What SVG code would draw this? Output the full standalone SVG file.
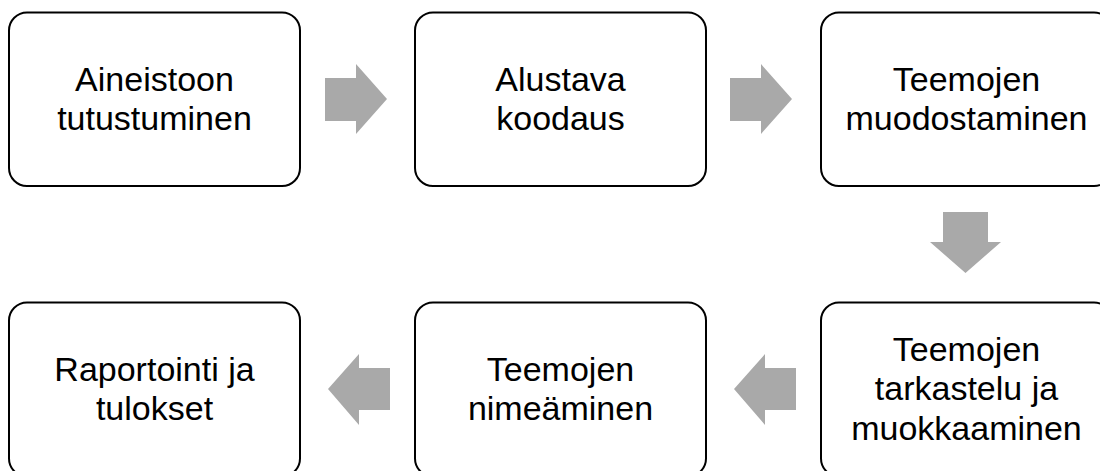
<svg xmlns="http://www.w3.org/2000/svg" width="1100" height="471" viewBox="0 0 1100 471">
  <style>
    .box { fill: #ffffff; stroke: #000000; stroke-width: 2; }
    .lbl { font-family: "Liberation Sans", Arial, sans-serif; font-size: 34px; fill: #000000; text-anchor: middle; }
    .arrow { fill: #a9a9a9; stroke: none; }
  </style>
  <rect width="1100" height="471" fill="#ffffff"/>

  <!-- block arrows between the steps -->
  <g id="connectors">
    <polygon class="arrow" points="325,78 356,78 356,64 387,99 356,134 356,121 325,121"/>
    <polygon class="arrow" points="730,78 761,78 761,64 792,99 761,134 761,121 730,121"/>
    <polygon class="arrow" points="943,212 988,212 988,242 1001,242 965.5,273 930,242 943,242"/>
    <polygon class="arrow" points="796,368 765,368 765,354 734,389 765,425 765,410 796,410"/>
    <polygon class="arrow" points="390,368 359,368 359,354 328,389 359,425 359,410 390,410"/>
  </g>

  <g id="step1">
    <rect class="box" x="9" y="12.5" width="291" height="173.5" rx="18"/>
    <text class="lbl" x="154.5" y="90.5">Aineistoon</text>
    <text class="lbl" x="154.5" y="130">tutustuminen</text>
  </g>

  <g id="step2">
    <rect class="box" x="415" y="12.5" width="291" height="173.5" rx="18"/>
    <text class="lbl" x="560.5" y="90.5">Alustava</text>
    <text class="lbl" x="560.5" y="130">koodaus</text>
  </g>

  <g id="step3">
    <rect class="box" x="821" y="12.5" width="291" height="173.5" rx="18"/>
    <text class="lbl" x="966.5" y="90.5">Teemojen</text>
    <text class="lbl" x="966.5" y="130">muodostaminen</text>
  </g>

  <g id="step4">
    <rect class="box" x="821" y="302.5" width="291" height="174" rx="18"/>
    <text class="lbl" x="966.5" y="360.5">Teemojen</text>
    <text class="lbl" x="966.5" y="400">tarkastelu ja</text>
    <text class="lbl" x="966.5" y="439.5">muokkaaminen</text>
  </g>

  <g id="step5">
    <rect class="box" x="415" y="302.5" width="291" height="174" rx="18"/>
    <text class="lbl" x="560.5" y="380.5">Teemojen</text>
    <text class="lbl" x="560.5" y="420">nimeäminen</text>
  </g>

  <g id="step6">
    <rect class="box" x="9" y="302.5" width="291" height="174" rx="18"/>
    <text class="lbl" x="154.5" y="380.5">Raportointi ja</text>
    <text class="lbl" x="154.5" y="420">tulokset</text>
  </g>
</svg>
